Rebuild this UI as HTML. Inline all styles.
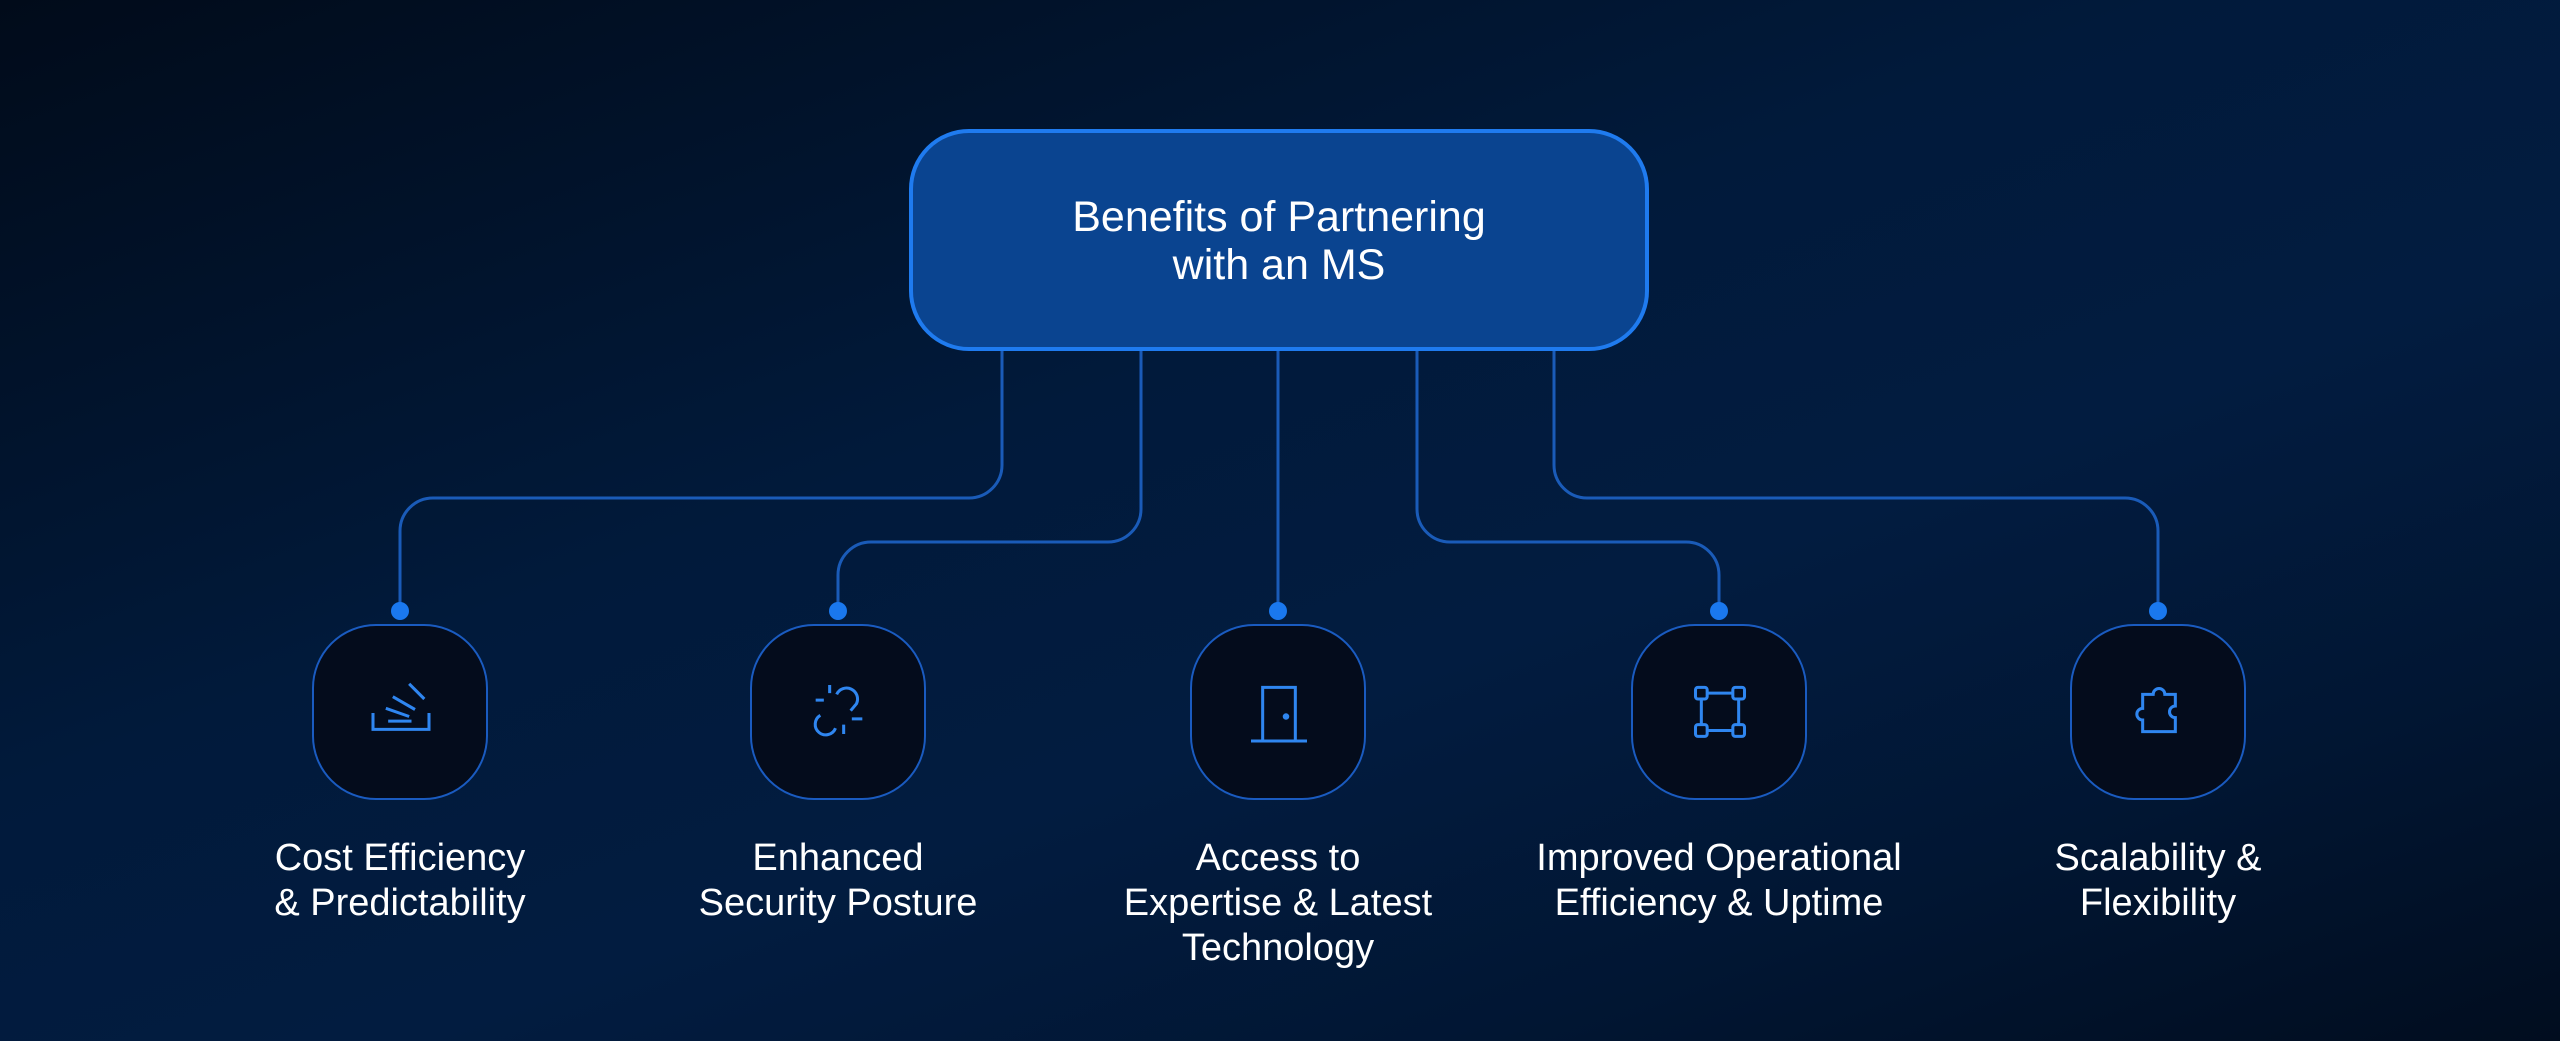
<!DOCTYPE html>
<html><head><meta charset="utf-8"><style>
html,body{margin:0;padding:0}
body{width:2560px;height:1041px;overflow:hidden;position:relative;font-family:"Liberation Sans",sans-serif;
background:linear-gradient(160deg,#010b1a 0%,#011a3b 40%,#021c40 60%,#011633 80%,#010d1f 100%);}
.main{position:absolute;left:909px;top:129px;width:740px;height:222px;box-sizing:border-box;border:4px solid #1f7bef;border-radius:60px;background:#0a4490;color:#fff;font-size:43px;line-height:48px;text-align:center;padding-top:60px}
.ib{position:absolute;top:624px;width:176px;height:176px;box-sizing:border-box;border:2px solid #1a5bc0;border-radius:64px;background:#040c1c}
.ib svg{position:absolute;left:52px;top:52px}
.lbl{position:absolute;top:836px;width:480px;margin-left:-240px;text-align:center;color:#fff;font-size:38px;line-height:45px}
</style></head><body>
<svg width="2560" height="1041" style="position:absolute;left:0;top:0">
<g fill="none" stroke="#1a5bb8" stroke-width="3">
<path d="M1002 351 V465 A33 33 0 0 1 969 498 H433 A33 33 0 0 0 400 531 V611"/>
<path d="M1141 351 V509 A33 33 0 0 1 1108 542 H871 A33 33 0 0 0 838 575 V611"/>
<path d="M1278 351 V611"/>
<path d="M1417 351 V509 A33 33 0 0 0 1450 542 H1686 A33 33 0 0 1 1719 575 V611"/>
<path d="M1554 351 V465 A33 33 0 0 0 1587 498 H2125 A33 33 0 0 1 2158 531 V611"/>
</g>
<g fill="#1a78ee"><circle cx="400" cy="611" r="9"/><circle cx="838" cy="611" r="9"/><circle cx="1278" cy="611" r="9"/><circle cx="1719" cy="611" r="9"/><circle cx="2158" cy="611" r="9"/></g>
</svg>
<div class="main">Benefits of Partnering<br>with an MS</div>

<div class="ib" style="left:312px"><svg width="70" height="70" viewBox="0 0 60 60" fill="none" stroke="#2f86f0" stroke-width="2.6"><path d="M6 30V44H54V30"/><path d="M19 37H39M17 26L37 33M23 16L42 27M37 5L50 18"/></svg></div>
<div class="ib" style="left:750px"><svg width="70" height="70" viewBox="0 0 60 60" fill="none" stroke="#2f86f0" stroke-width="2.6"><path d="M28 14A9 9 0 1 1 45 22L40 28"/><path d="M14 32A9 9 0 1 0 27 43"/><path d="M22 6V13M10 19H17M34 40V48M41 35H50"/></svg></div>
<div class="ib" style="left:1190px"><svg width="70" height="70" viewBox="0 0 60 60" fill="none" stroke="#2f86f0" stroke-width="2.6"><path d="M16 54V8H44V54"/><path d="M6 54H54"/><circle cx="36" cy="33" r="1.5" fill="#2f86f0"/></svg></div>
<div class="ib" style="left:1631px"><svg width="70" height="70" viewBox="0 0 60 60" fill="none" stroke="#2f86f0" stroke-width="2.6"><rect x="9" y="8" width="10" height="10" rx="2"/><rect x="41" y="8" width="10" height="10" rx="2"/><rect x="9" y="40" width="10" height="10" rx="2"/><rect x="41" y="40" width="10" height="10" rx="2"/><path d="M19 13H41M19 45H41M14 18V40M46 18V40"/></svg></div>
<div class="ib" style="left:2070px"><svg width="70" height="70" viewBox="0 0 60 60" fill="none" stroke="#2f86f0" stroke-width="2.6"><path d="M16 14H25A5 5 0 1 1 35 14H44V24A5 5 0 1 0 44 34V46H16V36A5 5 0 1 1 16 26Z"/></svg></div>

<div class="lbl" style="left:400px">Cost Efficiency<br>&amp; Predictability</div>
<div class="lbl" style="left:838px">Enhanced<br>Security Posture</div>
<div class="lbl" style="left:1278px">Access to<br>Expertise &amp; Latest<br>Technology</div>
<div class="lbl" style="left:1719px">Improved Operational<br>Efficiency &amp; Uptime</div>
<div class="lbl" style="left:2158px">Scalability &amp;<br>Flexibility</div>
</body></html>
